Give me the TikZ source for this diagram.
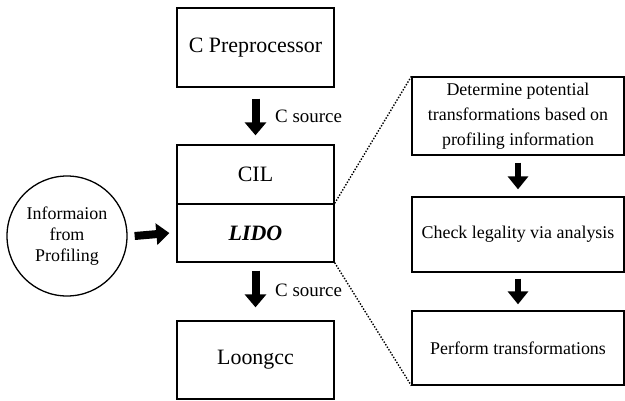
\documentclass[tikz,border=0pt]{standalone}
\usepackage{fontspec}
\setmainfont{Liberation Serif}
\usetikzlibrary{arrows.meta}
\begin{document}
\begin{tikzpicture}[x=1bp,y=-1bp,
  box/.style={draw,line width=1.3bp,minimum width=157bp,inner sep=0pt,font=\fontsize{22}{26}\selectfont},
  rbox/.style={draw,line width=1.3bp,minimum width=212bp,inner sep=0pt,align=center,font=\fontsize{18}{25}\selectfont},
  bigarrow/.style={line width=8bp,-{Triangle[width=21bp,length=13bp]}},
  smallarrow/.style={line width=6bp,-{Triangle[width=20bp,length=13bp]}},
  lbl/.style={anchor=west,inner sep=0pt,font=\fontsize{19}{22}\selectfont},
  dotline/.style={line width=1.4bp,dash pattern=on 1.4bp off 1.6bp}]
\useasboundingbox (0,0) rectangle (625,400);
\node[box,minimum height=79bp] (pre) at (255.5,47.5) {C Preprocessor};
\node[box,minimum height=59bp] (cil) at (255.5,174.5) {CIL};
\node[box,minimum height=58bp] (lido) at (255.5,233) {\textbf{\textit{LIDO}}};
\node[box,minimum height=78bp] (loong) at (255.5,360) {Loongcc};
\node[draw,circle,line width=1.3bp,minimum size=120bp,inner sep=0pt,align=center,
  font=\fontsize{18}{21}\selectfont] (info) at (67,236) {Informaion\\from\\Profiling};
\node[rbox,minimum height=78bp] (r1) at (518,116) {Determine potential\\transformations based on\\profiling information};
\node[rbox,minimum height=75bp] (r2) at (518,234.5) {Check legality via analysis};
\node[rbox,minimum height=74bp] (r3) at (518,348) {Perform transformations};
\node[lbl] (cs1) at (275,116) {C source};
\node[lbl] (cs2) at (275,290) {C source};
\draw[bigarrow] ([yshift=-11bp]pre.south) -- ([yshift=9bp]cil.north);
\draw[bigarrow] ([yshift=-8bp]lido.south) -- ([yshift=13bp]loong.north);
\draw[bigarrow] ([xshift=7bp]info.east) -- ([xshift=-7bp]lido.west);
\draw[smallarrow] ([yshift=-7bp]r1.south) -- ([yshift=7bp]r2.north);
\draw[smallarrow] ([yshift=-6bp]r2.south) -- ([yshift=6bp]r3.north);
\draw[dotline] (lido.north east) -- (r1.north west);
\draw[dotline] (lido.south east) -- (r3.south west);
\end{tikzpicture}
\end{document}
